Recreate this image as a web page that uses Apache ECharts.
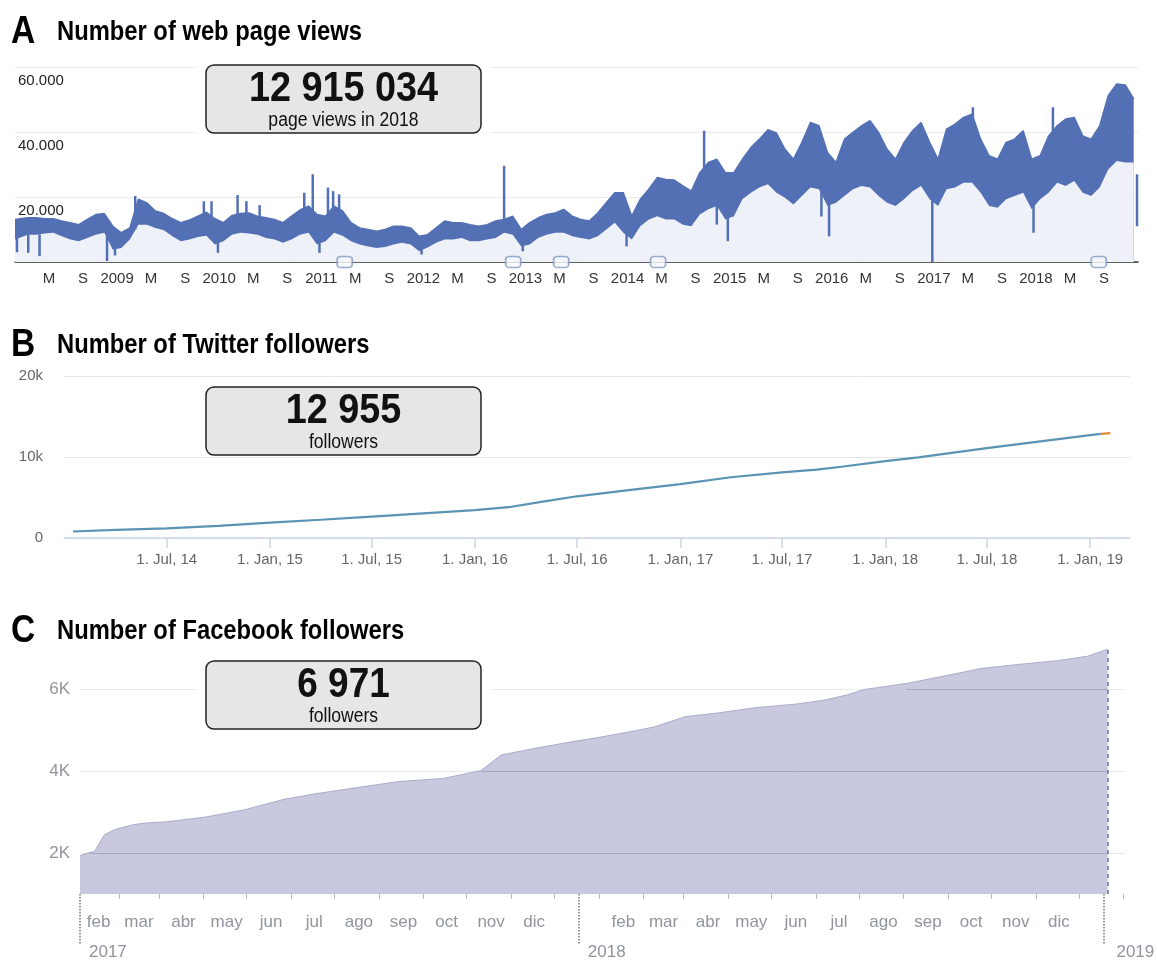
<!DOCTYPE html>
<html>
<head>
<meta charset="UTF-8">
<title>Web page views, Twitter and Facebook followers</title>
<script src="https://cdn.jsdelivr.net/npm/echarts@6/dist/echarts.min.js"></script>
<style>
    html, body { margin: 0; padding: 0; background: #fff; }
    #main { width: 1157px; height: 961px; }
</style>
</head>
<body>
<div id="main"></div>
<script type="text/javascript">
    // A - page views, monthly envelope (weekday peaks / weekend troughs), Jan 2008 .. Dec 2018
    var viewsHigh = [
        13100, 13600, 13600, 13300, 13300, 12600, 12100, 11500, 13100, 14600, 14900, 11000,
        9000, 10500, 19300, 18200, 15700, 14900, 13300, 12100, 12900, 14100, 15300, 13300,
        12100, 14300, 14900, 15100, 14100, 13600, 13100, 12100, 14100, 16000, 17200, 14600,
        14100, 17200, 15700, 12100, 10500, 10000, 9500, 10000, 11000, 11000, 10500, 7900,
        8400, 10500, 12600, 12100, 12100, 11500, 11000, 11500, 12600, 13100, 14100, 10000,
        12100, 13600, 14600, 15100, 16200, 14100, 13100, 12600, 15100, 18200, 21300, 21300,
        14100, 19300, 22400, 26000, 25400, 25200, 23400, 21800, 27500, 30600, 31600, 27500,
        27500, 31600, 35200, 37800, 40700, 39700, 34700, 31600, 36800, 42900, 41900, 33700,
        30600, 37800, 39900, 41900, 43500, 39900, 34700, 31600, 36800, 40400, 42900, 36800,
        31600, 40900, 42400, 44500, 45500, 37800, 32700, 31600, 36800, 37800, 40400, 31600,
        32700, 38800, 41900, 44000, 44500, 38800, 37800, 41900, 51200, 54800, 54500, 50200
    ];
    var viewsLow = [
        6900, 8400, 8400, 8800, 9000, 7900, 6900, 6400, 7400, 8400, 9000, 3800,
        4300, 6900, 11500, 11500, 10500, 9800, 7900, 6400, 6900, 7700, 8100, 5400,
        6400, 8400, 9000, 8800, 8400, 7400, 6900, 5900, 6900, 8400, 9000, 5400,
        6400, 9000, 8100, 6400, 5400, 4800, 4300, 4600, 5400, 5900, 5400, 3300,
        4500, 5900, 6900, 6900, 7400, 6400, 6400, 6900, 7400, 9000, 8400, 4800,
        5400, 7400, 8400, 9000, 9000, 7900, 7400, 6900, 7900, 10000, 12100, 9000,
        6900, 11000, 13100, 14100, 13100, 13100, 11500, 11000, 14600, 16200, 17200, 13100,
        14100, 19300, 21300, 22900, 23900, 21300, 19800, 17700, 20300, 22900, 22400, 17200,
        18200, 20300, 22400, 23400, 22900, 20300, 18200, 17200, 19300, 21800, 23400, 19300,
        17200, 22400, 22900, 24400, 24400, 21300, 17200, 16700, 19300, 20300, 21300, 16200,
        19300, 21300, 24400, 23400, 24900, 21300, 20300, 22900, 28500, 31100, 30600, 30600
    ];
    // single days that leave the envelope: [date, from, to]
    var viewsSpikes = [
        ['2008-01-08', 3000, 10000], ['2008-02-18', 2800, 9000], ['2008-03-28', 1800, 8500],
        ['2008-11-26', 300, 8000], ['2008-12-24', 2000, 8000], ['2009-03-05', 10000, 20300],
        ['2009-11-07', 10000, 18700], ['2009-12-04', 9000, 18700], ['2009-12-27', 2800, 9000],
        ['2010-03-06', 9500, 20600], ['2010-04-07', 9500, 18700], ['2010-05-24', 9000, 17500],
        ['2010-11-01', 10000, 21300], ['2010-12-01', 10000, 27000], ['2010-12-25', 2800, 10000],
        ['2011-01-25', 10000, 22900], ['2011-02-13', 10000, 21800], ['2011-03-04', 10000, 20800],
        ['2011-12-25', 2300, 8000], ['2012-10-16', 12000, 29600], ['2012-12-22', 3300, 10000],
        ['2013-12-28', 4800, 13000], ['2014-10-01', 18000, 40400], ['2014-11-16', 11500, 22000],
        ['2014-12-25', 6400, 16000], ['2015-11-25', 14000, 25000], ['2015-12-22', 7900, 18000],
        ['2016-12-26', 0, 22000], ['2017-05-19', 25000, 47600], ['2017-12-23', 9000, 20000],
        ['2018-03-01', 25000, 47600], ['2018-12-28', 11000, 27000]
    ];
    var viewsNotes = ['2011-03-24', '2012-11-18', '2013-05-07', '2014-04-19', '2018-08-13'];

    // B - Twitter followers
    var twitterDates = ['2014-01-15', '2014-04-01', '2014-07-01', '2014-10-01', '2015-01-01', '2015-04-01',
        '2015-07-01', '2015-10-01', '2016-01-01', '2016-03-01', '2016-05-01', '2016-07-01', '2016-10-01',
        '2017-01-01', '2017-04-01', '2017-07-01', '2017-09-01', '2017-10-15', '2018-01-01', '2018-03-01',
        '2018-07-01', '2018-10-01', '2019-01-01', '2019-01-20', '2019-02-06'];
    var twitterValues = [800, 1000, 1200, 1500, 1900, 2250, 2650, 3050, 3450, 3800, 4500, 5150, 5900,
        6650, 7500, 8100, 8450, 8800, 9500, 9950, 11100, 11900, 12700, 12850, 12955];
    var twitterTicks = ['2014-07-01', '2015-01-01', '2015-07-01', '2016-01-01', '2016-07-01',
        '2017-01-01', '2017-07-01', '2018-01-01', '2018-07-01', '2019-01-01'];
    var twitterTickLabels = ['1. Jul, 14', '1. Jan, 15', '1. Jul, 15', '1. Jan, 16', '1. Jul, 16',
        '1. Jan, 17', '1. Jul, 17', '1. Jan, 18', '1. Jul, 18', '1. Jan, 19'];

    // C - Facebook followers
    var fbDates = ['2017-01-19', '2017-01-26', '2017-01-29', '2017-02-05', '2017-02-12', '2017-02-25',
        '2017-03-05', '2017-03-20', '2017-04-16', '2017-05-13', '2017-06-10', '2017-07-01', '2017-07-24',
        '2017-08-28', '2017-09-29', '2017-10-25', '2017-11-08', '2017-12-01', '2017-12-28', '2018-01-15',
        '2018-02-10', '2018-02-23', '2018-03-16', '2018-04-09', '2018-05-04', '2018-06-01', '2018-06-21',
        '2018-07-06', '2018-07-19', '2018-08-17', '2018-09-12', '2018-10-08', '2018-11-03', '2018-11-30',
        '2018-12-21', '2019-01-04'];
    var fbValues = [1935, 2016, 2030, 2445, 2567, 2690, 2730, 2760, 2875, 3050, 3310, 3440, 3560,
        3740, 3820, 4010, 4390, 4550, 4717, 4820, 4985, 5080, 5325, 5420, 5545, 5630, 5730,
        5850, 5990, 6135, 6315, 6500, 6600, 6690, 6800, 6971];
    var fbMonthNames = ['ene', 'feb', 'mar', 'abr', 'may', 'jun', 'jul', 'ago', 'sep', 'oct', 'nov', 'dic'];
    var fbYearMarks = ['2017-01-19', '2018-01-01', '2019-01-01'];
    var fbYearLabels = ['2017', '2018', '2019'];

    var HEAD = "'Liberation Sans', Arial, sans-serif";
    var UI = "Arial, 'Liberation Sans', Helvetica, sans-serif";
    var BLUE = '#5470b4';

    function ts(s) { return echarts.number.parseDate(s).getTime(); }
    // months since Jan 2008 (x of panel A)
    function monthIndex(s) {
        var p = s.split('-');
        return (p[0] - 2008) * 12 + (p[1] - 1) + (p[2] - 1) / 30.5;
    }
    function pad(n) { return (n < 10 ? '0' : '') + n; }
    // mid-month position, first month pinned to the left edge of the axis
    function monthX(i) { return i === 0 ? 0 : i + 0.5; }

    var highData = viewsHigh.map(function (v, i) { return [monthX(i), v]; });
    var lowData = viewsLow.map(function (v, i) { return [monthX(i), v]; });
    var spikeData = viewsSpikes.map(function (s) { return [monthIndex(s[0]), s[1], s[2]]; });
    var noteData = viewsNotes.map(function (d) { return [monthIndex(d), 0]; });

    var nTw = twitterValues.length;
    var twData = twitterDates.slice(0, nTw - 1).map(function (d, i) { return [ts(d), twitterValues[i]]; });
    var twLast = [[ts(twitterDates[nTw - 2]), twitterValues[nTw - 2]], [ts(twitterDates[nTw - 1]), twitterValues[nTw - 1]]];
    var twTickValues = twitterTicks.map(ts);

    var fbData = fbDates.map(function (d, i) { return [ts(d), fbValues[i]]; });
    var fbMonthStarts = [], fbMidMonths = [];
    [2017, 2018].forEach(function (y) {
        for (var m = 2; m <= 12; m++) fbMonthStarts.push(ts(y + '-' + pad(m) + '-01'));
    });
    for (var k = 1; k <= 24; k++) {
        fbMidMonths.push(ts((2017 + Math.floor(k / 12)) + '-' + pad(k % 12 + 1) + '-15'));
    }
    var fbYearValues = fbYearMarks.map(ts);
    // where the area first reaches a grid level (darker gridline inside the area)
    function crossFrom(level) {
        for (var i = 0; i < fbValues.length; i++) if (fbValues[i] >= level) return ts(fbDates[i]);
        return ts(fbDates[fbDates.length - 1]);
    }
    var fbEnd = ts(fbDates[fbDates.length - 1]);
    var innerGrid = [2000, 4000, 6000].map(function (lv) {
        return [{coord: [crossFrom(lv), lv]}, {coord: [fbEnd, lv]}];
    });

    // headings and boxes (condensed look via horizontal scaling)
    function heading(letter, text, y) {
        return [
            {type: 'text', x: 11, y: y, z: 100, scaleX: 0.86,
                style: {text: letter, font: 'bold 39px ' + HEAD, fill: '#000', align: 'left', verticalAlign: 'middle'}},
            {type: 'text', x: 57, y: y + 1, z: 100, scaleX: 0.88,
                style: {text: text, font: 'bold 27px ' + HEAD, fill: '#000', align: 'left', verticalAlign: 'middle'}}
        ];
    }
    function box(y, big, small, sx) {
        return [
            {type: 'rect', x: 196, y: y - 2, z: 99, shape: {width: 295, height: 72}, style: {fill: '#fff'}},
            {type: 'rect', x: 206, y: y, z: 100, shape: {width: 275, height: 68, r: 8}, style: {fill: '#e6e6e6', stroke: '#222', lineWidth: 1.5}},
            {type: 'text', x: 343.5, y: y + 24, z: 101, scaleX: sx,
                style: {text: big, font: 'bold 42px ' + HEAD, fill: '#111', align: 'center', verticalAlign: 'middle'}},
            {type: 'text', x: 343.5, y: y + 56, z: 101, scaleX: 0.9,
                style: {text: small, font: '19.5px ' + HEAD, fill: '#111', align: 'center', verticalAlign: 'middle'}}
        ];
    }

    var chart = echarts.init(document.getElementById('main'));
    var option = {
        animation: false,
        backgroundColor: '#fff',
        graphic: [].concat(
            heading('A', 'Number of web page views', 32),
            heading('B', 'Number of Twitter followers', 345),
            heading('C', 'Number of Facebook followers', 631),
            box(65, '12 915 034', 'page views in 2018', 0.9),
            box(387, '12 955', 'followers', 0.9),
            box(661, '6 971', 'followers', 0.88)
        ),
        grid: [
            {left: 15, top: 67, width: 1123, height: 195, outerBoundsMode: 'none'},
            {left: 64, top: 376, width: 1066, height: 162, outerBoundsMode: 'none'},
            {left: 80, top: 648, width: 1045, height: 246, outerBoundsMode: 'none'}
        ],
        xAxis: [
            {
                gridIndex: 0, type: 'value', min: 0, max: 132, interval: 4,
                axisLine: {lineStyle: {color: '#333', width: 1.5}},
                axisTick: {show: false},
                splitLine: {show: false},
                axisLabel: {
                    showMinLabel: false, showMaxLabel: false, margin: 9,
                    color: '#333', fontSize: 15, fontFamily: UI,
                    formatter: function (v) {
                        var r = v % 12;
                        return r === 0 ? String(2008 + v / 12) : (r === 4 ? 'M' : 'S');
                    }
                }
            },
            {
                gridIndex: 1, type: 'value', min: ts('2013-12-30'), max: ts('2019-03-13'),
                axisLine: {lineStyle: {color: '#ccd6eb', width: 1.5}},
                axisTick: {customValues: twTickValues, length: 10, lineStyle: {color: '#ccd6eb', width: 1.5}},
                splitLine: {show: false},
                axisLabel: {
                    customValues: twTickValues, margin: 14, color: '#666', fontSize: 15, fontFamily: UI,
                    formatter: function (v) { return twitterTickLabels[twTickValues.indexOf(v)] || ''; }
                }
            },
            {
                gridIndex: 2, type: 'value', min: ts('2017-01-19'), max: ts('2019-01-16'),
                axisLine: {show: false},
                axisTick: {customValues: fbMidMonths, length: 5, lineStyle: {color: '#b8b8b8'}},
                splitLine: {show: false},
                axisLabel: {
                    customValues: fbMonthStarts, margin: 20, color: '#90949c', fontSize: 17, fontFamily: UI,
                    formatter: function (v) { return fbMonthNames[new Date(v).getMonth()]; }
                }
            },
            {
                gridIndex: 2, type: 'value', position: 'bottom', offset: 0,
                min: ts('2017-01-19'), max: ts('2019-01-16'),
                axisLine: {show: false},
                axisTick: {customValues: fbYearValues, length: 50, lineStyle: {color: '#777', width: 1.5, type: 'dotted'}},
                splitLine: {show: false},
                axisLabel: {
                    customValues: fbYearValues, margin: 50, align: 'left', color: '#90949c', fontSize: 17, fontFamily: UI,
                    formatter: function (v) {
                        var i = fbYearValues.indexOf(v);
                        return (i === 2 ? '{z|' : '{y|') + fbYearLabels[i] + '}';
                    },
                    rich: {
                        y: {padding: [0, 0, 0, 9], color: '#90949c', fontSize: 17, fontFamily: UI},
                        z: {padding: [0, 0, 0, 13], color: '#90949c', fontSize: 17, fontFamily: UI}
                    }
                }
            }
        ],
        yAxis: [
            {
                gridIndex: 0, type: 'value', min: 0, max: 60000, interval: 20000,
                axisLine: {show: false}, axisTick: {show: false},
                splitLine: {lineStyle: {color: '#ebebeb'}},
                axisLabel: {
                    inside: true, margin: 3, verticalAlign: 'top', padding: [6, 0, 0, 0],
                    color: '#222', fontSize: 15, fontFamily: UI,
                    formatter: function (v) { return v === 0 ? '' : (v / 1000) + '.000'; }
                }
            },
            {
                gridIndex: 1, type: 'value', min: 0, max: 20000, interval: 10000,
                axisLine: {show: false}, axisTick: {show: false},
                splitLine: {lineStyle: {color: '#e6e6e6'}},
                axisLabel: {
                    margin: 21, color: '#666', fontSize: 15, fontFamily: UI,
                    formatter: function (v) { return v === 0 ? '0' : (v / 1000) + 'k'; }
                }
            },
            {
                gridIndex: 2, type: 'value', min: 1000, max: 7000, interval: 1000,
                axisLine: {show: false}, axisTick: {show: false},
                splitLine: {lineStyle: {color: ['transparent', '#e9e9e9']}},
                axisLabel: {
                    margin: 10, color: '#90949c', fontSize: 17, fontFamily: UI,
                    formatter: function (v) { return (v === 2000 || v === 4000 || v === 6000) ? (v / 1000) + 'K' : ''; }
                }
            }
        ],
        series: [
            {   // weekday peaks: dark band down to the axis, covered below by the trough area
                type: 'line', xAxisIndex: 0, yAxisIndex: 0, data: highData,
                symbol: 'none', lineStyle: {width: 1.5, color: BLUE}, areaStyle: {color: BLUE, opacity: 1}
            },
            {
                type: 'line', xAxisIndex: 0, yAxisIndex: 0, data: lowData,
                symbol: 'none', lineStyle: {width: 0}, areaStyle: {color: '#eef1f8', opacity: 1}
            },
            {
                type: 'custom', xAxisIndex: 0, yAxisIndex: 0, data: spikeData, z: 3,
                encode: {x: 0, y: [1, 2]},
                renderItem: function (params, api) {
                    var p1 = api.coord([api.value(0), api.value(1)]);
                    var p2 = api.coord([api.value(0), api.value(2)]);
                    return {type: 'line', shape: {x1: p1[0], y1: p1[1], x2: p2[0], y2: p2[1]},
                        style: {stroke: BLUE, lineWidth: 2.5}};
                }
            },
            {
                type: 'scatter', xAxisIndex: 0, yAxisIndex: 0, data: noteData, clip: false, z: 5,
                symbol: 'roundRect', symbolSize: [15, 11],
                itemStyle: {color: '#f5f7fc', borderColor: '#8197c4', borderWidth: 1.5}
            },
            {
                type: 'line', xAxisIndex: 1, yAxisIndex: 1, data: twData,
                symbol: 'none', lineStyle: {width: 2.2, color: '#5b93b4'}
            },
            {
                type: 'line', xAxisIndex: 1, yAxisIndex: 1, data: twLast,
                symbol: 'none', lineStyle: {width: 2.2, color: '#e08a2e'}
            },
            {
                type: 'line', xAxisIndex: 2, yAxisIndex: 2, data: fbData,
                symbol: 'none', lineStyle: {width: 1, color: '#a9abcc'},
                areaStyle: {color: '#c8c9df', opacity: 1},
                markLine: {
                    silent: true, symbol: 'none', label: {show: false},
                    lineStyle: {color: '#a3a5c6', width: 1, type: 'solid'},
                    data: innerGrid.concat([{xAxis: fbEnd, lineStyle: {color: '#6f72a0', width: 1.5, type: [4, 4]}}])
                }
            }
        ]
    };
    chart.setOption(option);
</script>
</body>
</html>
